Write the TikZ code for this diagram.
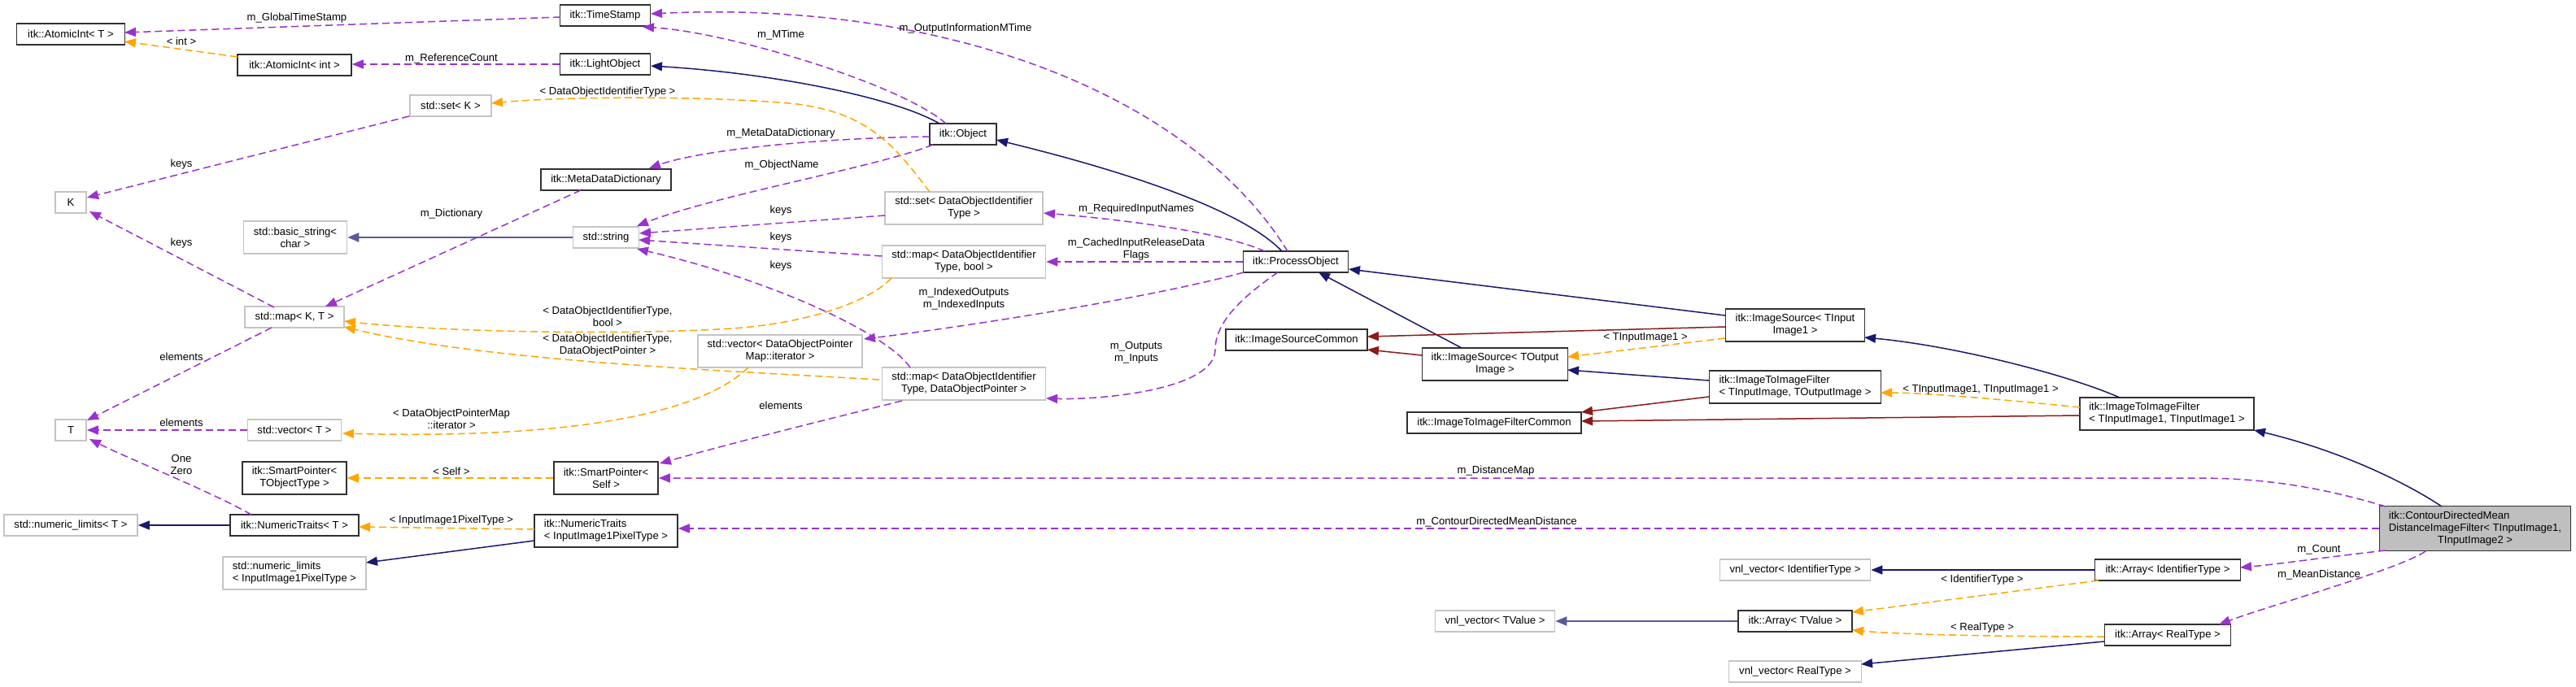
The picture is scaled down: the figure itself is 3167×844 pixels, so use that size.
\documentclass[tikz,border=0pt]{standalone}
\usepackage{fontspec}
\setmainfont{Liberation Sans}
\usetikzlibrary{arrows.meta,calc}
\definecolor{usecol}{HTML}{9A32CD}
\definecolor{tplcol}{HTML}{FFA500}
\definecolor{pubcol}{HTML}{191970}
\definecolor{publight}{HTML}{5A5A9A}
\definecolor{protcol}{HTML}{8B1A1A}
\definecolor{grayborder}{HTML}{C4C4C4}
\definecolor{darkborder}{HTML}{303030}
\definecolor{fillgray}{HTML}{BFBFBF}
\begin{document}
\begin{tikzpicture}[x=1pt,y=-1pt, font=\fontsize{13.1}{15}\selectfont,
  sz/.style 2 args={minimum width=#1pt, minimum height=#2pt},
  cls/.style={draw=darkborder, line width=1.6pt, inner sep=0pt, align=center, fill=white},
  ext/.style={draw=grayborder, line width=1.6pt, inner sep=0pt, align=center, fill=white},
  lbl/.style={inner sep=0pt, align=center},
  edgeline/.style={line width=1.5pt, -{Triangle[length=14pt,width=11pt]}},
  usage/.style={edgeline, draw=usecol, dash pattern=on 9pt off 5pt},
  tmpl/.style={edgeline, draw=tplcol, dash pattern=on 9pt off 5pt},
  pub/.style={edgeline, draw=pubcol},
  publ/.style={edgeline, draw=publight, line width=2pt},
  prot/.style={edgeline, draw=protcol},
]
\useasboundingbox (0,0) rectangle (3167,844);

% ---------- nodes ----------
\node[cls, sz={133}{26}] (ait) at (87,42) {itk::AtomicInt< T >};
\node[cls, sz={111}{26}] (ts) at (744,19) {itk::TimeStamp};
\node[cls, sz={140}{26}] (aii) at (362,80) {itk::AtomicInt< int >};
\node[cls, sz={111}{26}] (lo) at (744,79) {itk::LightObject};
\node[ext, sz={100}{26}] (setk) at (554,130) {std::set< K >};
\node[ext, sz={38}{26}] (K) at (87,249) {K};
\node[cls, sz={160}{26}] (mdd) at (745,221) {itk::MetaDataDictionary};
\node[ext, sz={127}{40}] (bstr) at (363,292) {std::basic\_string<\\char >};
\node[ext, sz={81}{26}] (str) at (745,292) {std::string};
\node[ext, sz={122}{26}] (mapkt) at (362,390) {std::map< K, T >};
\node[cls, sz={82}{26}] (obj) at (1184,165) {itk::Object};
\node[ext, sz={194}{40}] (setd) at (1185,256) {std::set< DataObjectIdentifier\\Type >};
\node[ext, sz={201}{40}] (mapb) at (1185,322) {std::map< DataObjectIdentifier\\Type, bool >};
\node[cls, sz={129}{26}] (po) at (1593,322) {itk::ProcessObject};
\node[ext, sz={202}{40}] (vecd) at (959,432) {std::vector< DataObjectPointer\\Map::iterator >};
\node[ext, sz={201}{40}] (mapp) at (1185,472) {std::map< DataObjectIdentifier\\Type, DataObjectPointer >};
\node[ext, sz={38}{26}] (Tn) at (87,529) {T};
\node[ext, sz={115}{26}] (vect) at (362,529) {std::vector< T >};
\node[cls, sz={128}{40}] (spt) at (362,588) {itk::SmartPointer<\\TObjectType >};
\node[cls, sz={128}{40}] (sps) at (745,588) {itk::SmartPointer<\\Self >};
\node[ext, sz={164}{26}] (nlt) at (87,646) {std::numeric\_limits< T >};
\node[cls, sz={158}{26}] (ntt) at (362,646) {itk::NumericTraits< T >};
\node[cls, sz={176}{40}, align=left] (nti) at (745,653) {itk::NumericTraits\\< InputImage1PixelType >};
\node[ext, sz={176}{40}, align=left] (nli) at (362,705) {std::numeric\_limits\\< InputImage1PixelType >};
\node[cls, sz={174}{26}] (isc) at (1594,418) {itk::ImageSourceCommon};
\node[cls, sz={179}{40}] (iso) at (1838,448) {itk::ImageSource< TOutput\\Image >};
\node[cls, sz={171}{40}] (isi) at (2207,400) {itk::ImageSource< TInput\\Image1 >};
\node[cls, sz={211}{40}, align=left] (itfo) at (2207,476) {itk::ImageToImageFilter\\< TInputImage, TOutputImage >};
\node[cls, sz={214}{26}] (itfc) at (1837,520) {itk::ImageToImageFilterCommon};
\node[cls, sz={214}{40}, align=left] (itf1) at (2664,509) {itk::ImageToImageFilter\\< TInputImage1, TInputImage1 >};
\node[cls, sz={235}{55}, fill=fillgray] (cdm) at (3043,650)
  {\begin{tabular}{@{}l@{}}itk::ContourDirectedMean\\DistanceImageFilter< TInputImage1,\\\multicolumn{1}{@{}c@{}}{TInputImage2 >}\end{tabular}};
\node[ext, sz={185}{26}] (vid) at (2207,701) {vnl\_vector< IdentifierType >};
\node[cls, sz={179}{26}] (aid) at (2665,701) {itk::Array< IdentifierType >};
\node[ext, sz={147}{26}] (vtv) at (1838,764) {vnl\_vector< TValue >};
\node[cls, sz={140}{26}] (atv) at (2207,764) {itk::Array< TValue >};
\node[cls, sz={155}{26}] (art) at (2665,781) {itk::Array< RealType >};
\node[ext, sz={163}{26}] (vrt) at (2207,826) {vnl\_vector< RealType >};

% ---------- usage (purple dashed) ----------
\draw[usage] ($(ts)+(-55,2)$) -- ($(ait)+(66,-2)$);
\draw[usage] (lo.west) -- (lo.west -| aii.east);
\draw[usage] ($(obj)+(-21,-13)$) .. controls (1110,105) and (900,40) .. ($(ts)+(46,14)$);
\draw[usage] ($(po)+(-10,-13)$) .. controls (1460,110) and (1150,0) .. ($(ts)+(56,-2)$);
\draw[usage] ($(obj)+(-41,3)$) .. controls (1000,170) and (860,185) .. ($(mdd)+(53,-14)$);
\draw[usage] ($(obj)+(-37,13)$) .. controls (1080,205) and (880,240) .. ($(str)+(38,-14)$);
\draw[usage] ($(mdd)+(-31,13)$) -- ($(mapkt)+(38,-13)$);
\draw[usage] ($(setk)+(-51,13)$) -- ($(K)+(20,-6)$);
\draw[usage] ($(mapkt)+(-25,-12)$) -- ($(K)+(23,11)$);
\draw[usage] ($(mapkt)+(-28,13)$) -- ($(Tn)+(20,-12)$);
\draw[usage] (vect.west) -- (Tn.east);
\draw[usage] ($(ntt)+(-53,-13)$) .. controls (260,605) and (160,565) .. ($(Tn)+(23,11)$);
\draw[usage] ($(setd)+(-97,9)$) -- ($(str)+(41,-5)$);
\draw[usage] ($(mapb)+(-101,-7)$) -- ($(str)+(40,3)$);
\draw[usage] ($(mapp)+(-66,-20)$) .. controls (1090,410) and (950,345) .. ($(str)+(38,14)$);
\draw[usage] ($(po)+(-38,-13)$) .. controls (1500,285) and (1380,270) .. ($(setd)+(98,6)$);
\draw[usage] (po.west) -- (mapb.east);
\draw[usage] ($(po)+(-64,13)$) .. controls (1420,365) and (1200,400) .. ($(vecd)+(103,-15)$);
\draw[usage] ($(po)+(-22,13)$) .. controls (1520,370) and (1494,400) .. (1494,430) .. controls (1494,480) and (1350,492) .. ($(mapp)+(101,18)$);
\draw[usage] ($(mapp)+(-76,21)$) .. controls (1000,520) and (900,545) .. ($(sps)+(66,-18)$);
\draw[usage] ($(cdm)+(-110,-27)$) .. controls (2850,598) and (2780,588) .. (2700,588) -- (sps.east);
\draw[usage] (cdm.west) -- (cdm.west -| nti.east);
\draw[usage] ($(cdm)+(-110,27)$) .. controls (2870,684) and (2800,694) .. ($(aid)+(89,-3)$);
\draw[usage] ($(cdm)+(-61,28)$) .. controls (2950,700) and (2790,745) .. ($(art)+(63,-13)$);

% ---------- template instances (orange dashed) ----------
\draw[tmpl] ($(aii)+(-70,-10)$) -- ($(ait)+(66,9)$);
\draw[tmpl] ($(setd)+(-42,-20)$) .. controls (1100,180) and (1070,140) .. (980,128) .. controls (880,118) and (700,118) .. ($(setk)+(50,-3)$);
\draw[tmpl] ($(mapb)+(-89,20)$) .. controls (1070,370) and (1000,395) .. (913,403) .. controls (800,412) and (560,410) .. ($(mapkt)+(61,5)$);
\draw[tmpl] ($(mapp)+(-104,-5)$) .. controls (900,456) and (600,445) .. ($(mapkt)+(61,12)$);
\draw[tmpl] ($(vecd)+(-39,20)$) .. controls (860,510) and (700,540) .. ($(vect)+(59,4)$);
\draw[tmpl] (sps.west) -- (spt.east);
\draw[tmpl] ($(nti)+(-88,-2)$) -- ($(ntt)+(79,2)$);
\draw[tmpl] ($(isi)+(-86,16)$) -- ($(iso)+(89,-9)$);
\draw[tmpl] ($(itf1)+(-107,-8)$) .. controls (2450,490) and (2360,483) .. ($(itfo)+(105,7)$);
\draw[tmpl] ($(aid)+(-85,13)$) -- ($(atv)+(70,-11)$);
\draw[tmpl] ($(art)+(-78,2)$) .. controls (2450,783) and (2330,780) .. ($(atv)+(70,11)$);

% ---------- public inheritance (blue) ----------
\draw[publ] (str.west) -- (bstr.east);
\draw[pub] ($(obj)+(-29,-13)$) .. controls (1100,120) and (950,90) .. ($(lo)+(56,2)$);
\draw[pub] ($(po)+(-17,-13)$) .. controls (1520,250) and (1340,200) .. ($(obj)+(41,7)$);
\draw[pub] ($(isi)+(-86,-12)$) -- ($(po)+(65,9)$);
\draw[pub] ($(iso)+(-41,-20)$) -- ($(po)+(28,13)$);
\draw[pub] ($(itfo)+(-106,-8)$) -- ($(iso)+(89,7)$);
\draw[pub] ($(itf1)+(-58,-20)$) .. controls (2540,460) and (2400,425) .. ($(isi)+(85,15)$);
\draw[pub] ($(cdm)+(-41,-27)$) .. controls (2960,595) and (2880,555) .. ($(itf1)+(107,20)$);
\draw[pub] (ntt.west) -- (nlt.east);
\draw[pub] ($(nti)+(-88,12)$) -- ($(nli)+(88,-13)$);
\draw[pub] (aid.west) -- (vid.east);
\draw[publ] (atv.west) -- (vtv.east);
\draw[pub] ($(art)+(-78,8)$) -- ($(vrt)+(81,-9)$);

% ---------- protected inheritance (red) ----------
\draw[prot] ($(isi)+(-86,2)$) -- ($(isc)+(87,-4)$);
\draw[prot] ($(iso)+(-90,-11)$) -- ($(isc)+(87,12)$);
\draw[prot] ($(itfo)+(-106,12)$) -- ($(itfc)+(107,-13)$);
\draw[prot] ($(itf1)+(-107,2)$) -- ($(itfc)+(107,-2)$);

% ---------- labels ----------
\node[lbl] (lb1) at (365,22) {m\_GlobalTimeStamp};
\node[lbl] (lb2) at (555,72) {m\_ReferenceCount};
\node[lbl] (lb3) at (960,43) {m\_MTime};
\node[lbl] (lb4) at (1187,35) {m\_OutputInformationMTime};
\node[lbl] (lb5) at (960,164) {m\_MetaDataDictionary};
\node[lbl] (lb6) at (961,203) {m\_ObjectName};
\node[lbl] (lb7) at (555,263) {m\_Dictionary};
\node[lbl] (lb8) at (223,202) {keys};
\node[lbl] (lb9) at (223,299) {keys};
\node[lbl] (lb10) at (223,439) {elements};
\node[lbl] (lb11) at (223,520) {elements};
\node[lbl] (lb12) at (223,571) {One\\Zero};
\node[lbl] (lb13) at (960,259) {keys};
\node[lbl] (lb14) at (960,292) {keys};
\node[lbl] (lb15) at (960,327) {keys};
\node[lbl] (lb16) at (1397,257) {m\_RequiredInputNames};
\node[lbl] (lb17) at (1397,307) {m\_CachedInputReleaseData\\Flags};
\node[lbl] (lb18) at (1185,368) {m\_IndexedOutputs\\m\_IndexedInputs};
\node[lbl] (lb19) at (1397,434) {m\_Outputs\\m\_Inputs};
\node[lbl] (lb20) at (960,499) {elements};
\node[lbl] (lb21) at (1839,579) {m\_DistanceMap};
\node[lbl] (lb22) at (1840,642) {m\_ContourDirectedMeanDistance};
\node[lbl] (lb23) at (2851,676) {m\_Count};
\node[lbl] (lb24) at (2851,707) {m\_MeanDistance};
\node[lbl] (lo1) at (223,51) {< int >};
\node[lbl] (lo2) at (747,113) {< DataObjectIdentifierType >};
\node[lbl] (lo3) at (747,389) {< DataObjectIdentifierType,\\bool >};
\node[lbl] (lo4) at (747,425) {< DataObjectIdentifierType,\\DataObjectPointer >};
\node[lbl] (lo5) at (555,515) {< DataObjectPointerMap\\::iterator >};
\node[lbl] (lo6) at (555,580) {< Self >};
\node[lbl] (lo7) at (555,640) {< InputImage1PixelType >};
\node[lbl] (lo8) at (2023,415) {< TInputImage1 >};
\node[lbl] (lo9) at (2435,479) {< TInputImage1, TInputImage1 >};
\node[lbl] (lo10) at (2437,713) {< IdentifierType >};
\node[lbl] (lo11) at (2437,772) {< RealType >};
\end{tikzpicture}
\end{document}
